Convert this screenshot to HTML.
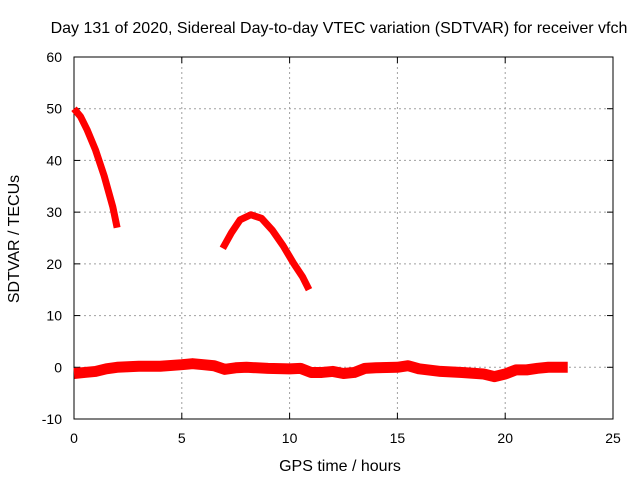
<!DOCTYPE html>
<html><head><meta charset="utf-8"><style>
body{margin:0;background:#fff}
svg{display:block;font-family:"Liberation Sans",sans-serif;font-size:14px}
</style></head><body>
<svg width="640" height="480">
<rect width="640" height="480" fill="#fff"/>
<text x="339" y="33" text-anchor="middle" font-size="16">Day 131 of 2020, Sidereal Day-to-day VTEC variation (SDTVAR) for receiver vfch</text>
<g id="grid"></g>
<g id="axes"></g>
<g id="series"></g>
<text x="340" y="471" text-anchor="middle" font-size="16">GPS time / hours</text>
<text transform="translate(19,239) rotate(-90)" text-anchor="middle" font-size="16">SDTVAR / TECUs</text>
</svg>
<script>
const xTicks=[0,5,10,15,20,25];
const yTicks=[-10,0,10,20,30,40,50,60];
const seg1X=[0,0.3,0.6,1,1.4,1.8,2];
const seg1Y=[50,48.5,46,42,37,31,27];
const seg2X=[6.9,7.3,7.7,8.2,8.7,9.2,9.7,10.2,10.6,10.9];
const seg2Y=[23,26,28.5,29.5,28.8,26.5,23.5,20,17.5,15];
const bandX=[0,0.5,1,1.5,2,2.5,3,4,5,5.5,6,6.5,7,7.5,8,9,10,10.5,11,11.5,12,12.5,13,13.5,14,15,15.5,16,17,18,19,19.5,20,20.5,21,21.5,22,22.9];
const bandY=[-1.2,-1,-0.8,-0.3,0,0.1,0.2,0.2,0.5,0.7,0.5,0.3,-0.4,-0.1,0,-0.2,-0.3,-0.2,-1,-1,-0.8,-1.2,-1,-0.2,-0.1,0,0.3,-0.3,-0.8,-1,-1.3,-1.8,-1.3,-0.5,-0.5,-0.2,0,0];
const X0=74,X1=613,Y0=419,Y1=57;
const sx=v=>X0+(v-0)/25*(X1-X0);
const sy=v=>Y0-(v+10)/70*(Y0-Y1);
const NS="http://www.w3.org/2000/svg";
function mk(t,a,p){const e=document.createElementNS(NS,t);for(const k in a)e.setAttribute(k,a[k]);p.appendChild(e);return e;}
const g=document.getElementById('grid'),ax=document.getElementById('axes'),s=document.getElementById('series');
xTicks.forEach(v=>{
 if(v>0&&v<25){const l=mk('line',{x1:sx(v),x2:sx(v),y1:Y1,y2:Y0,stroke:'#a0a0a0','stroke-dasharray':'2,3'},g);
 
 }
 mk('line',{x1:sx(v),x2:sx(v),y1:Y0,y2:Y0-6,stroke:'#000'},ax);
 mk('line',{x1:sx(v),x2:sx(v),y1:Y1,y2:Y1+6,stroke:'#000'},ax);
 const t=mk('text',{x:sx(v),y:Y0+24,'text-anchor':'middle'},ax);t.textContent=v;
 
 
});
yTicks.forEach(v=>{
 if(v>-10&&v<60){const l=mk('line',{x1:X0,x2:X1,y1:sy(v),y2:sy(v),stroke:'#a0a0a0','stroke-dasharray':'2,3'},g);
 
 }
 mk('line',{x1:X0,x2:X0+6,y1:sy(v),y2:sy(v),stroke:'#000'},ax);
 mk('line',{x1:X1,x2:X1-6,y1:sy(v),y2:sy(v),stroke:'#000'},ax);
 const t=mk('text',{x:X0-12,y:sy(v)+5,'text-anchor':'end'},ax);t.textContent=v;
 
 
});
const fr=mk('rect',{x:X0,y:Y1,width:X1-X0,height:Y0-Y1,fill:'none',stroke:'#000'},ax);


function line(xs,ys,w,name){
 const p=mk('polyline',{points:xs.map((x,i)=>sx(x)+','+sy(ys[i])).join(' '),fill:'none',stroke:'#f00','stroke-width':w,'stroke-linejoin':'round'},s);
 
 
}
line(seg1X,seg1Y,7,'sdtvar-segment-1');
line(seg2X,seg2Y,7,'sdtvar-segment-2');
line(bandX,bandY,11,'sdtvar-baseline-band');
</script>
</body></html>
